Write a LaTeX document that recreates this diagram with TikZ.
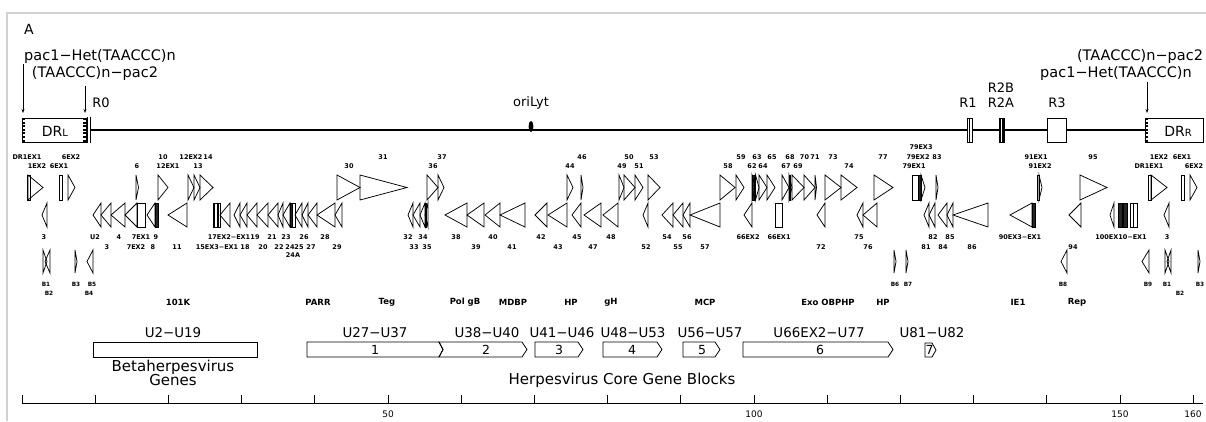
\documentclass[tikz,border=0pt]{standalone}
\usepackage{fontspec}
\setmainfont{DejaVu Sans}
\usetikzlibrary{arrows.meta}
\newcommand\gF[2]{\draw[gene] (#1,175) -- (#2,187.5) -- (#1,200) -- cycle;}
\newcommand\gR[2]{\draw[gene] (#2,203) -- (#1,215) -- (#2,227) -- cycle;}
\newcommand\gFB[2]{\draw[gene] (#1,250) -- (#2,261.5) -- (#1,273) -- cycle;}
\newcommand\gRB[2]{\draw[gene] (#2,250) -- (#1,261.5) -- (#2,273) -- cycle;}
\newcommand\xF[2]{\draw[gene] (#1,175) rectangle (#2,200);}
\newcommand\xR[2]{\draw[gene] (#1,203) rectangle (#2,227);}
\newcommand\dF[2]{\draw[gene,fill=black!85] (#1,175) rectangle (#2,200);}
\newcommand\dR[2]{\draw[gene,fill=black!85] (#1,203) rectangle (#2,227);}
\begin{document}
\begin{tikzpicture}[x=1pt,y=-1pt,
  gene/.style={draw=black,line width=0.75pt,line join=miter},
  glab/.style={font=\bfseries\fontsize{6.5}{8}\selectfont,inner sep=0pt},
  bflab/.style={font=\bfseries\fontsize{5.8}{7}\selectfont,inner sep=0pt},
  flab/.style={font=\bfseries\fontsize{8.5}{10}\selectfont,inner sep=0pt},
  ulab/.style={font=\fontsize{13.4}{15}\selectfont,inner sep=0pt},
  nlab/.style={font=\fontsize{12.5}{14}\selectfont,inner sep=0pt},
  big/.style={font=\fontsize{14.5}{16}\selectfont,inner sep=0pt},
  rlab/.style={font=\fontsize{13}{15}\selectfont,inner sep=0pt},
  ttl/.style={font=\fontsize{15}{17}\selectfont,inner sep=0pt},
  pacarrow/.style={line width=0.6pt,-{Stealth[length=4pt,width=3pt]}},
  blk/.style={draw=black,line width=0.8pt,line join=miter},
  frame/.style={draw=black!18,line width=1.6pt}]
\useasboundingbox (0,0) rectangle (1206,421);
\fill[white] (0,0) rectangle (1206,421);
% frame
\draw[frame] (7,421) -- (7,13) -- (1206,13);
% panel letter
\node[font=\fontsize{14}{16}\selectfont,inner sep=0pt] (panelA) at (29,29) {A};
% pac labels
\node[big] (pacL1) at (100,57) {pac1−Het(TAACCC)n};
\node[big] (pacL2) at (95,74) {(TAACCC)n−pac2};
\node[big] (pacR1) at (1140,57) {(TAACCC)n−pac2};
\node[big] (pacR2) at (1116,74) {pac1−Het(TAACCC)n};
\coordinate (aL1s) at (23,64);
\coordinate (aL1e) at (23,113);
\coordinate (aL2s) at (85,86);
\coordinate (aL2e) at (85,113);
\coordinate (aRs) at (1147,82);
\coordinate (aRe) at (1147,113);
\draw[pacarrow] (aL1s) -- (aL1e);
\draw[pacarrow] (aL2s) -- (aL2e);
\draw[pacarrow] (aRs) -- (aRe);
% main genome line
\coordinate (lineL) at (90,130);
\coordinate (lineR) at (1145,130);
\draw[line width=1.1pt] (lineL) -- (lineR);
% DRL
\draw[line width=0.9pt] (22,118) rectangle (86,142);
\draw[line width=2.6pt,dash pattern=on 2pt off 1.6pt] (23.8,118) -- (23.8,142);
\draw[line width=2.6pt,dash pattern=on 2pt off 1.6pt] (84.2,118) -- (84.2,142);
\draw[line width=1.4pt] (87.5,117) -- (87.5,143);
\draw[line width=1.4pt] (90.2,117) -- (90.2,143);
\node[inner sep=0pt] (drl) at (55,131) {\fontsize{14}{16}\selectfont DR\fontsize{10}{12}\selectfont L};
% DRR
\draw[line width=0.9pt] (1145,118) rectangle (1203,142);
\draw[line width=2.6pt,dash pattern=on 2pt off 1.6pt] (1146.8,118) -- (1146.8,142);
\node[inner sep=0pt] (drr) at (1178,131) {\fontsize{14}{16}\selectfont DR\fontsize{10}{12}\selectfont R};
% repeat regions
\draw[line width=0.9pt,fill=white] (967,118) rectangle (972,142);
\draw[line width=0.5pt] (969.5,118) -- (969.5,142);
\draw[line width=0.9pt,fill=white] (999,118) rectangle (1004,142);
\fill[black] (999,118) rectangle (1000.8,142);
\fill[black] (1002.2,118) rectangle (1004,142);
\draw[line width=0.9pt,fill=white] (1047,118) rectangle (1066,142);
\node[rlab] (r0) at (101,103) {R0};
\node[rlab] (r1) at (968,103) {R1};
\node[rlab] (r2a) at (1001,103) {R2A};
\node[rlab] (r2b) at (1001,88) {R2B};
\node[rlab] (r3) at (1057,103) {R3};
% oriLyt
\node[rlab] (ori) at (531,103) {oriLyt};
\fill[black] (531,126.5) ellipse (2.4 and 5.5);
% forward genes
\xF{27}{30}\gF{28}{43}
\xF{59}{62}
\gF{68}{75}
\gF{136}{138.5}
\gF{158}{168}
\gF{188}{194}
\gF{194}{200}
\gF{200}{213}
\gF{337}{360}
\gF{360}{407}
\gF{427}{438}
\gF{438}{444}
\gF{567}{573}
\gF{581}{583}
\gF{619}{624}
\gF{624}{635}
\gF{635}{643}
\gF{648}{660}
\gF{720}{735}
\gF{736}{744}
\dF{752}{754}\gF{752}{755.5}
\gF{755.5}{759}
\gF{759}{767}
\gF{767}{775}
\gF{782}{789}
\dF{789}{790.5}\gF{789}{792}
\gF{792}{804}
\gF{804}{815}
\gF{815}{816.5}
\gF{825}{841}
\gF{841}{857}
\gF{874}{893}
\xF{912}{918}\dF{918}{921}\gF{921}{925}
\gF{936}{938}
\xF{1037}{1039}\gF{1039}{1042}
\gF{1080}{1107}
\xF{1148}{1151}\gF{1151}{1167}
\xF{1181}{1184}
\gF{1190}{1197}
% reverse genes
\gR{42}{47}
\gR{93}{101}
\gR{101}{111}
\gR{111}{125}
\gR{125}{137}
\xR{137}{145}
\gR{147}{155}
\dR{155}{158}
\gR{168}{187}
\xR{213}{220}\fill[black] (213,203) rectangle (215,227);\fill[black] (217,203) rectangle (218.5,227);
\gR{220}{230}
\gR{234}{240}
\gR{240}{247}
\gR{247}{257}
\gR{257}{268}
\gR{268}{278}
\gR{278}{283}
\gR{283}{290}
\dR{290}{292}\xR{292}{295}
\gR{295}{302}
\gR{302}{308}
\gR{308}{317}
\gR{317}{335}
\gR{335}{342}
\gR{408}{413}
\gR{413}{420}
\gR{420}{425}
\dR{425}{426.5}\gR{425}{428}
\gR{445}{467}
\gR{467}{484}
\gR{485}{500}
\gR{500}{525}
\gR{535}{547}
\gR{548}{567}
\gR{572}{581}
\gR{584}{601}
\gR{603}{618}
\gR{643}{648}
\gR{662}{673}
\gR{673}{683}
\gR{683}{690}
\gR{690}{720}
\gR{744}{752}
\xR{775}{782}
\gR{817}{825}
\gR{857}{863}
\gR{863}{877}
\gR{924}{929}
\gR{929}{935}
\gR{938}{947}
\gR{947}{953}
\gR{953}{988}
\gR{1010}{1032}\dR{1032}{1035}
\gR{1069}{1081}
\gR{1110}{1114}
\dR{1118}{1122}\dR{1123.5}{1127}
\xR{1130}{1137}\draw[gene] (1133.5,203) -- (1133.5,227);
\gR{1164}{1169}
% B row
\gFB{43}{47}\gRB{45}{50}
\gFB{75}{77}
\gRB{87}{93}
\gFB{894}{896}
\gFB{906}{908}
\gRB{1061}{1067}
\gRB{1142}{1149}
\gFB{1165}{1169}\gRB{1167}{1171}
\gFB{1198}{1200}
% gene labels
\node[glab] (l79x3) at (921,147) {79EX3};
\foreach \x/\t [count=\i] in {27/DR1EX1,71/6EX2,163/10,191/12EX2,208/14,383/31,442/37,582/46,629/50,654/53,741/59,757/63,772/65,790/68,804.5/70,815/71,833/73,883/77,918/79EX2,937/83,1036/91EX1,1093/95,1159/1EX2,1182/6EX1}
  \node[glab] (ga\i) at (\x,157) {\t};
\foreach \x/\t [count=\i] in {37/1EX2,59/6EX1,137/6,168/12EX1,198/13,349/30,433/36,570/44,622/49,639/51,728/58,752/62,763/64,786/67,798/69,849/74,914/79EX1,1040/91EX2,1149/DR1EX1,1194/6EX2}
  \node[glab] (gb\i) at (\x,166) {\t};
\foreach \x/\t [count=\i] in {44/3,95/U2,119/4,141/7EX1,156/9,229/17EX2−EX1,255/19,272/21,286/23,304/26,325/28,408/32,423/34,456/38,493/40,541/42,577/45,611/48,667/54,687/56,748/66EX2,779/66EX1,859/75,933/82,950/85,1020/90EX3−EX1,1121/100EX10−EX1,1167/3}
  \node[glab] (gc\i) at (\x,237) {\t};
\foreach \x/\t [count=\i] in {107/3,136/7EX2,153/8,177/11,217/15EX3−EX1,245/18,263/20,279/22,290/24,299/25,311/27,337/29,414/33,427/35,476/39,512/41,558/43,593/47,646/52,678/55,705/57,821/72,868/76,926/81,943/84,972/86,1073/94}
  \node[glab] (gd\i) at (\x,247) {\t};
\node[glab] (g24a) at (293,255) {24A};
\foreach \x/\t [count=\i] in {46/B1,76/B3,92/B5,895/B6,908/B7,1063/B8,1148/B9,1167/B1,1200/B3}
  \node[bflab] (be\i) at (\x,284) {\t};
\foreach \x/\t [count=\i] in {49/B2,89/B4,1180/B2}
  \node[bflab] (bf\i) at (\x,293) {\t};
% function labels
\foreach \x/\t [count=\i] in {178/101K,318/PARR,387/Teg,465/Pol gB,513/MDBP,571/HP,611/gH,705/MCP,828/Exo OBPHP,883/HP,1018/IE1,1077/Rep}
  \node[flab] (fn\i) at (\x,302) {\t};
% block labels
\foreach \x/\t [count=\i] in {173/U2−U19,375/U27−U37,487/U38−U40,562/U41−U46,633/U48−U53,710/U56−U57,819/U66EX2−U77,932/U81−U82}
  \node[ulab] (ub\i) at (\x,333) {\t};
% blocks
\draw[blk] (93,342) rectangle (257,357);
\draw[blk] (307,342) -- (439,342) -- (443,349.5) -- (439,357) -- (307,357) -- cycle;
\draw[blk] (439,342) -- (522,342) -- (527,349.5) -- (522,357) -- (439,357) -- (443,349.5) -- cycle;
\draw[blk] (535,342) -- (578,342) -- (583,349.5) -- (578,357) -- (535,357) -- cycle;
\draw[blk] (603,342) -- (657,342) -- (662,349.5) -- (657,357) -- (603,357) -- cycle;
\draw[blk] (683,342) -- (715,342) -- (720,349.5) -- (715,357) -- (683,357) -- cycle;
\draw[blk] (743,342) -- (888,342) -- (893,349.5) -- (888,357) -- (743,357) -- cycle;
\draw[blk] (925,343) -- (932,343) -- (936,350) -- (932,357) -- (925,357) -- cycle;
\foreach \x/\t [count=\i] in {375/1,486/2,559/3,632/4,702/5,820/6,929.5/7}
  \node[nlab] (bn\i) at (\x,350) {\t};
\node[ttl] (beta1) at (173,367) {Betaherpesvirus};
\node[ttl] (beta2) at (173,380) {Genes};
\node[ttl] (core) at (622,380) {Herpesvirus Core Gene Blocks};
% ruler
\coordinate (rulL) at (22,403);
\coordinate (rulR) at (1203,403);
\draw[line width=0.8pt] (rulL) -- (rulR);
\foreach \k in {0,...,16} \draw[line width=0.8pt] (22+73.2*\k,395) -- (22+73.2*\k,403);
\foreach \x/\t [count=\i] in {388/50,754/100,1120/150,1193/160}
  \node[font=\fontsize{9}{11}\selectfont,inner sep=0pt] (tk\i) at (\x,414) {\t};
\end{tikzpicture}
\end{document}
